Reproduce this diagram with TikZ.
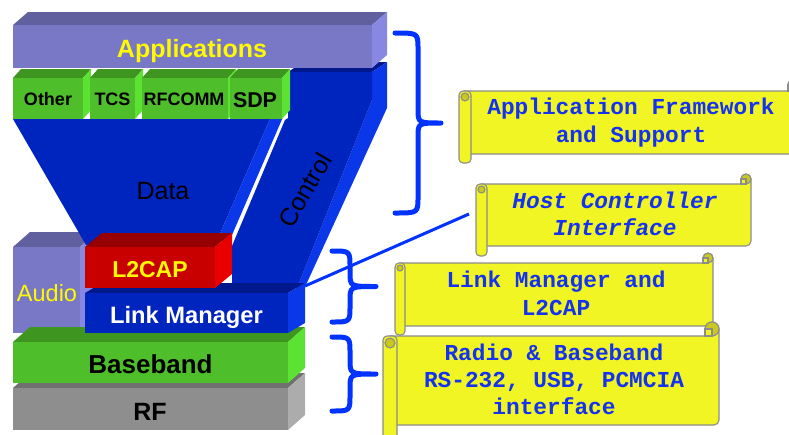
\documentclass[tikz,border=0pt]{standalone}
\usepackage{fontspec}
\setmainfont{Liberation Sans}
\newfontfamily\monofam{Liberation Mono}
\definecolor{lavF}{RGB}{120,120,198}
\definecolor{lavT}{RGB}{96,96,158}
\definecolor{lavS}{RGB}{136,136,226}
\definecolor{grnF}{RGB}{78,190,42}
\definecolor{grnT}{RGB}{62,150,32}
\definecolor{grnS}{RGB}{92,226,50}
\definecolor{bluF}{RGB}{0,36,190}
\definecolor{bluT}{RGB}{0,24,140}
\definecolor{bluS}{RGB}{10,55,232}
\definecolor{redF}{RGB}{200,0,0}
\definecolor{redT}{RGB}{150,0,0}
\definecolor{redS}{RGB}{232,0,0}
\definecolor{gryF}{RGB}{142,142,142}
\definecolor{gryT}{RGB}{112,112,112}
\definecolor{gryS}{RGB}{172,172,172}
\definecolor{scrollY}{RGB}{240,245,35}
\definecolor{curlY}{RGB}{200,200,30}
\definecolor{scrollE}{RGB}{140,140,140}
\definecolor{txtB}{RGB}{20,50,240}
\definecolor{brB}{RGB}{0,51,255}
\definecolor{yel}{RGB}{255,250,0}
% 3D block: x1,y1,x2,y2 (front), dx,dy (depth), front, top, side colours
\newcommand{\blk}[9]{%
  \fill[#8] (#1,#2) -- (#1+#5,#2-#6) -- (#3+#5,#2-#6) -- (#3,#2) -- cycle;
  \fill[#9] (#3,#2) -- (#3+#5,#2-#6) -- (#3+#5,#4-#6) -- (#3,#4) -- cycle;
  \fill[#7] (#1,#2) rectangle (#3,#4);}
% scroll: xl, roll width, ytop, xright, ybottom, roll bottom, curl radius
\newcommand{\myscroll}[7]{%
  \filldraw[scrollbody] ({#1+#2/2},#3) -- ({#4-2*#7},#3) -- ({#4-2*#7},{#3-#7})
     arc[start angle=180,end angle=360,radius=#7] -- (#4,{#5-5})
     arc[start angle=0,end angle=90,radius=5] -- ({#1+#2/2},#5) -- cycle;
  \filldraw[curlstyle] ({#4-#7},{#3-#7}) circle[radius=#7];
  \filldraw[scrollbody] ({#4-2*#7},{#3-#7}) rectangle ({#4-#7},#3);
  \filldraw[scrollbody,rounded corners=4pt] (#1,#3) rectangle ({#1+#2},#6);
  \filldraw[curlstyle] ({#1+#2/2},{#3+#2/2}) circle[radius={#2/2-2}];}
% brace: x end, y top, y bottom, x vertical, x tip
\newcommand{\mybrace}[5]{%
  \draw[bracestyle] (#1,#2) .. controls (#4,#2) and (#4,#2) .. (#4,#2+16)
    -- (#4,{(#2+#3)/2-14}) .. controls (#4,{(#2+#3)/2}) and (#4,{(#2+#3)/2}) .. (#5,{(#2+#3)/2})
    .. controls (#4,{(#2+#3)/2}) and (#4,{(#2+#3)/2}) .. (#4,{(#2+#3)/2+14})
    -- (#4,#3-16) .. controls (#4,#3) and (#4,#3) .. (#1,#3);}
\begin{document}
\begin{tikzpicture}[x=1pt,y=-1pt,
  bracestyle/.style={draw=brB,line width=5pt,line cap=round,line join=round},
  scrollbody/.style={fill=scrollY,draw=scrollE,line width=1.1pt},
  curlstyle/.style={fill=curlY,draw=scrollE,line width=1.1pt},
  scrolltext/.style={font=\monofam\bfseries\fontsize{22.8}{27.5}\selectfont,text=txtB,inner sep=0pt,anchor=base},
  blocktext/.style={font=\bfseries\fontsize{25}{30}\selectfont,inner sep=0pt,anchor=base},
  smalltext/.style={font=\bfseries\fontsize{18}{22}\selectfont,inner sep=0pt,anchor=base},
  plaintext/.style={font=\fontsize{25}{30}\selectfont,inner sep=0pt,anchor=base},
  hciline/.style={draw=brB,line width=3pt}]
\useasboundingbox (0,0) rectangle (789,434);
\clip (0,0) rectangle (789,434);

% Audio block
\blk{13}{247}{80}{333}{17}{15}{lavF}{lavT}{lavS}
% Control band
\fill[bluT] (288,72) -- (303,62) -- (387,62) -- (372,72) -- cycle;
\fill[bluS] (372,72) -- (387,62) -- (387,108) -- (305,287) -- (297,288) -- (372,100) -- cycle;
\fill[bluF] (288,72) -- (372,72) -- (372,100) -- (297,288) -- (232,288) -- (232,246) -- (285,120) -- (288,118) -- cycle;
% Data funnel
\fill[bluF] (13,119) -- (270,119) -- (215,245) -- (86,245) -- cycle;
\fill[bluS] (270,119) -- (283,117) -- (232,235) -- (215,245) -- cycle;
% Applications
\blk{13}{25}{372}{68}{15}{13}{lavF}{lavT}{lavS}
% green protocol boxes
\blk{13}{78}{83}{119}{8}{9}{grnF}{grnT}{grnS}
\blk{90}{78}{135}{119}{8}{9}{grnF}{grnT}{grnS}
\blk{142}{78}{228}{119}{8}{9}{grnF}{grnT}{grnS}
\blk{230}{78}{282}{119}{8}{9}{grnF}{grnT}{grnS}
% RF, Baseband
\blk{13}{388}{288}{430}{17}{15}{gryF}{gryT}{gryS}
\blk{13}{342}{288}{383}{17}{15}{grnF}{grnT}{grnS}
% Link Manager, L2CAP
\blk{85}{293}{288}{333}{17}{10}{bluF}{bluT}{bluS}
\blk{85}{247}{215}{288}{17}{14}{redF}{redT}{redS}

% block labels
\node[blocktext,text=yel] (apps) at (192,57) {Applications};
\node[smalltext] (other) at (48,105) {Other};
\node[smalltext] (tcs) at (112.5,105) {TCS};
\node[smalltext] (rfcomm) at (184,105) {RFCOMM};
\node[smalltext,font=\bfseries\fontsize{21.4}{25}\selectfont] (sdp) at (255,107) {SDP};
\node[plaintext] (data) at (163,199) {Data};
\node[font=\fontsize{25}{30}\selectfont,inner sep=0pt,rotate=60] (control) at (305,190) {Control};
\node[plaintext,text=yel,font=\fontsize{23.5}{28}\selectfont] (audio) at (47,301) {Audio};
\node[blocktext,text=yel,font=\bfseries\fontsize{23}{28}\selectfont] (l2cap) at (150,277) {L2CAP};
\node[blocktext,text=white,font=\bfseries\fontsize{23.7}{28}\selectfont] (lm) at (186.5,323) {Link Manager};
\node[blocktext,font=\bfseries\fontsize{26}{30}\selectfont] (baseband) at (150.5,373) {Baseband};
\node[blocktext] (rf) at (150,420) {RF};

% braces
\mybrace{395}{33}{213}{418}{441}
\mybrace{332}{251}{322}{350}{376}
\mybrace{332}{337}{411}{350}{376}

% scrolls
\myscroll{459}{12}{91}{800}{154}{163}{6}
\node[scrolltext] (afs1) at (631,114) {Application Framework};
\node[scrolltext] (afs2) at (631,142) {and Support};
\myscroll{476}{11}{184}{751}{246}{256}{5}
\node[scrolltext,font=\monofam\bfseries\itshape\fontsize{22.8}{27.5}\selectfont] (hci1) at (615,208) {Host Controller};
\node[scrolltext,font=\monofam\bfseries\itshape\fontsize{22.8}{27.5}\selectfont] (hci2) at (615,235) {Interface};
\myscroll{395}{10}{263}{713}{326}{335}{5}
\node[scrolltext] (lml1) at (556,287) {Link Manager and};
\node[scrolltext] (lml2) at (556,315) {L2CAP};
\myscroll{383}{14}{336}{719}{425}{445}{7}
\node[scrolltext] (rb1) at (554,360) {Radio \& Baseband};
\node[scrolltext] (rb2) at (554,387) {RS-232, USB, PCMCIA};
\node[scrolltext] (rb3) at (554,414) {interface};

% HCI pointer line
\coordinate (hciend) at (469,214);
\coordinate (lmend) at (305,286);
\draw[hciline] (hciend) -- (lmend);
\end{tikzpicture}
\end{document}
